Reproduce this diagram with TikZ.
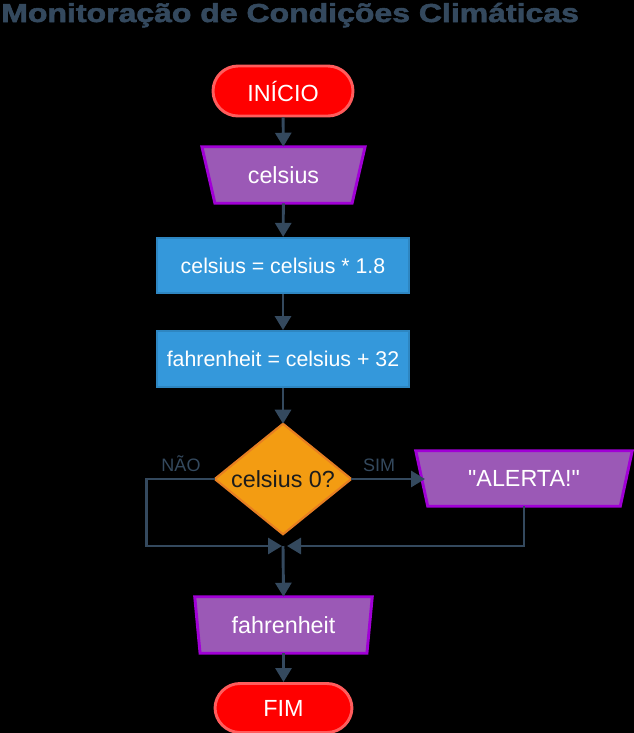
\documentclass[tikz,border=0pt]{standalone}
\usepackage{fontspec}
\setmainfont{Liberation Sans}
\newfontfamily\titlefont{Liberation Sans Bold}[FakeBold=2]
\newfontfamily\plainsans{Liberation Sans}
\usetikzlibrary{arrows.meta,backgrounds}
\definecolor{edge}{HTML}{34495E}
\definecolor{termfill}{HTML}{FF0000}
\definecolor{termline}{HTML}{FF5C5C}
\definecolor{iofill}{HTML}{9B59B6}
\definecolor{ioline}{HTML}{A100D6}
\definecolor{procfill}{HTML}{3498DB}
\definecolor{procline}{HTML}{2E86C1}
\definecolor{decfill}{HTML}{F39C12}
\definecolor{decline}{HTML}{E67E22}
\definecolor{dectext}{HTML}{1C1C1C}
\begin{document}
\begin{tikzpicture}[x=0.75pt,y=-0.75pt,
  lbl/.style={font=\fontsize{17.5}{20}\selectfont, text=white, inner sep=0pt},
  term/.style={lbl, minimum height=37.5pt, rounded corners=18.75pt, fill=termfill, draw=termline, line width=2.2pt},
  proc/.style={font=\fontsize{16}{19}\selectfont, text=white, inner sep=0pt, minimum width=189pt, minimum height=41.5pt, fill=procfill, draw=procline, line width=1.4pt},
  io/.style={lbl, minimum height=42pt},
  iobox/.style={fill=iofill, draw=ioline, line width=2.2pt, line join=miter},
  decbox/.style={fill=decfill, draw=decline, line width=1.6pt},
  arr/.style={draw=edge, line width=2.2pt, -{Triangle[length=10.5pt,width=12pt]}},
  conn/.style={draw=edge, line width=2.2pt},
  branch/.style={text=edge, font=\fontsize{13.5}{16}\selectfont, inner sep=0pt}
]
\useasboundingbox (0,0) rectangle (634,733);
\begin{scope}[on background layer]
  \fill[black] (0,0) rectangle (634,733);
\end{scope}

\node[anchor=base west, text=edge, font=\fontsize{19.5}{22}\titlefont, xscale=1.23, inner sep=0pt] (title) at (1,22) {Monitoração de Condições Climáticas};

\node[term, minimum width=105pt] (inicio) at (283,91) {INÍCIO};
\node[io, minimum width=122pt] (celsius) at (283.5,175) {celsius};
\node[proc] (mult) at (283,265.5) {celsius = celsius * 1.8};
\node[proc, minimum height=42pt] (conv) at (283,359) {fahrenheit = celsius + 32};
\node[inner sep=0pt, minimum width=102pt, minimum height=82.5pt, text=dectext, font=\fontsize{17.5}{20}\selectfont] (dec) at (283,479) {celsius 0?};
\node[io, minimum width=162pt, minimum height=41.25pt] (alerta) at (524,478.5) {\plainsans"ALERTA!"};
\node[io, minimum width=132.75pt] (fahr) at (283.5,625) {fahrenheit};
\node[term, minimum width=102.75pt, minimum height=36.75pt] (fim) at (283.5,708) {FIM};

\begin{scope}[on background layer]
  \draw[iobox] (celsius.north west) -- (celsius.north east) -- ([xshift=-9.75pt]celsius.south east) -- ([xshift=9.75pt]celsius.south west) -- cycle;
  \draw[iobox] (alerta.north west) -- (alerta.north east) -- ([xshift=-9pt]alerta.south east) -- ([xshift=9pt]alerta.south west) -- cycle;
  \draw[iobox] (fahr.north west) -- (fahr.north east) -- ([xshift=-4pt]fahr.south east) -- ([xshift=4pt]fahr.south west) -- cycle;
  \draw[decbox] (dec.north) -- (dec.east) -- (dec.south) -- (dec.west) -- cycle;
\end{scope}

\coordinate (merge) at (283,546);
\coordinate (alertaIn) at (425,479);

\draw[arr] (inicio) -- (celsius);
\draw[arr] (celsius) -- (mult);
\draw[arr] (mult) -- (conv);
\draw[arr] (conv) -- (dec.north);
\draw[arr] (dec.east) -- (alertaIn);
\draw[arr] (dec.west) -- ++(-68,0) |- ([xshift=-0.75pt]merge);
\draw[arr] (alerta.south) |- ([xshift=3pt]merge);
\draw[arr] (merge) -- (fahr.north);
\draw[arr] (fahr) -- (fim);

\node[branch, anchor=base] (nao) at (181,471) {NÃO};
\node[branch, anchor=base] (sim) at (379,471) {SIM};
\end{tikzpicture}
\end{document}
